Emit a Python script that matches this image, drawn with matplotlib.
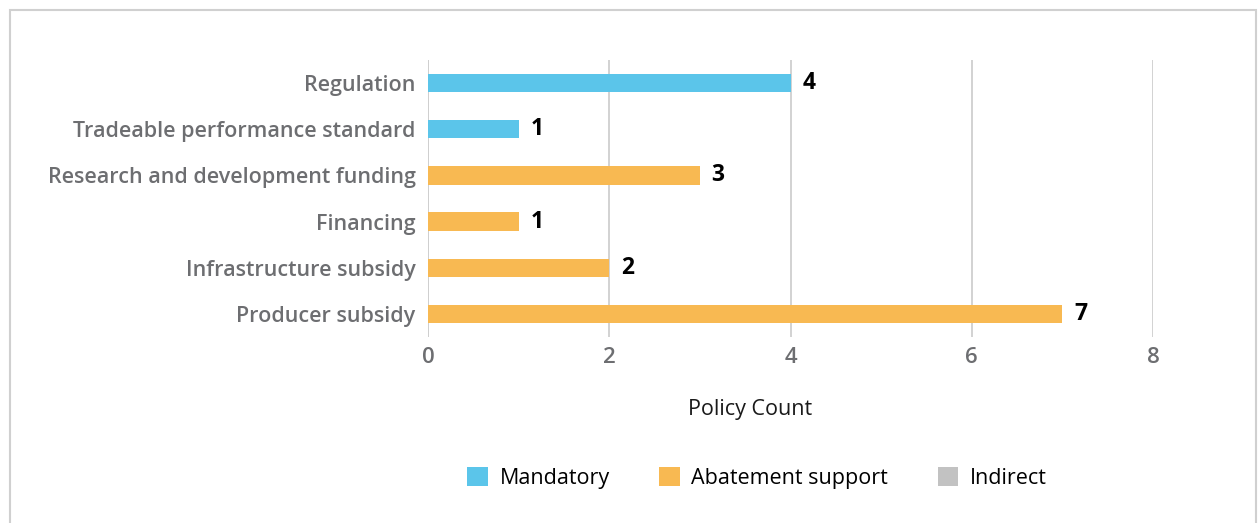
import matplotlib.pyplot as plt
from matplotlib.patches import Patch, Rectangle

categories = ["Regulation", "Tradeable performance standard", "Research and development funding",
              "Financing", "Infrastructure subsidy", "Producer subsidy"]
counts = [4, 1, 3, 1, 2, 7]
groups = ["Mandatory", "Mandatory", "Abatement support", "Abatement support",
          "Abatement support", "Abatement support"]
legend_labels = ["Mandatory", "Abatement support", "Indirect"]
group_colors = {"Mandatory": "#5BC5EA", "Abatement support": "#F8B952", "Indirect": "#C2C2C2"}
x_ticks = [0, 2, 4, 6, 8]

plt.rcParams['font.family'] = ['Open Sans', 'DejaVu Sans']
label_gray = "#6D6E71"

fig = plt.figure(figsize=(12.58, 5.23), dpi=100)
ax = fig.add_axes([428 / 1258, 1 - 337 / 523, (1153 - 428) / 1258, (337 - 60) / 523])

ypos = list(range(len(categories)))
colors = [group_colors[g] for g in groups]
ax.barh(ypos, counts, height=0.4, color=colors, zorder=3)
for y, v in zip(ypos, counts):
    ax.text(v + 0.13, y, str(v), va='center', ha='left', fontsize=16.5, fontweight='bold', color='black')

ax.set_ylim(len(categories) - 0.5, -0.5)
ax.set_xlim(0, 8.0)
ax.set_xticks(x_ticks)
ax.set_yticks(ypos)
ax.set_yticklabels(categories, fontweight='semibold')
ax.tick_params(axis='y', length=0, pad=9, labelsize=15.5, labelcolor=label_gray)
ax.tick_params(axis='x', length=0, pad=7, labelsize=16, labelcolor=label_gray)
for t in ax.get_xticklabels():
    t.set_fontweight('semibold')
ax.grid(axis='x', color='#CFCFCF', linewidth=1.3, zorder=0)
ax.set_axisbelow(True)
for s in ax.spines.values():
    s.set_visible(False)
ax.axvline(0, color='#CFCFCF', linewidth=1.3, zorder=1)

fig.text(750 / 1258, 1 - 409 / 523, "Policy Count", ha='center', va='center', fontsize=15.5, color='#1a1a1a')

handles = [Patch(facecolor=group_colors[l], edgecolor='none', label=l) for l in legend_labels]
fig.legend(handles=handles, loc='center', bbox_to_anchor=(757 / 1258, 1 - 478 / 523), ncol=3,
           frameon=False, fontsize=15.5, handlelength=0.95, handleheight=0.95, columnspacing=2.3,
           handletextpad=0.55)

fig.patches.append(Rectangle((10 / 1258, -0.05), (1256 - 10) / 1258, 1 - 10 / 523 + 0.05,
                             transform=fig.transFigure, fill=False, edgecolor='#D0D0D0', linewidth=1.5))

fig.savefig("out.png", dpi=100)
